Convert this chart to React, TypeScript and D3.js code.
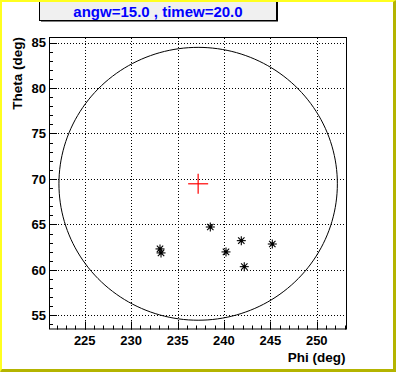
import React from "react";
import * as d3 from "d3";

const W = 396;
const H = 372;

const title = "angw=15.0 , timew=20.0";
const xTitle = "Phi (deg)";
const yTitle = "Theta (deg)";

const xDomain = [221.15, 253.15];
const yDomain = [53.45, 85.5];
const xTicks = [225, 230, 235, 240, 245, 250];
const yTicks = [55, 60, 65, 70, 75, 80, 85];

const centerPhi = 237.22;
const centerTheta = 69.47;
const radius = 15;

const phiValues = [233.11, 233.22, 238.53, 240.22, 241.87, 242.19, 245.21];
const thetaValues = [62.31, 61.87, 64.72, 61.98, 63.22, 60.36, 62.85];

export default function App() {
  const left = 49, right = 346, top = 38, bottom = 329.5;
  const x = d3.scaleLinear().domain(xDomain).range([left, right]);
  const y = d3.scaleLinear().domain(yDomain).range([bottom, top]);

  const xMinor = d3.range(Math.ceil(xDomain[0]), Math.floor(xDomain[1]) + 1);
  const yMinor = d3.range(Math.ceil(yDomain[0]), Math.floor(yDomain[1]) + 1);

  const circlePts: [number, number][] = d3.range(0, 361, 2).map((a) => {
    const r = (a * Math.PI) / 180;
    return [centerPhi + radius * Math.cos(r), centerTheta + radius * Math.sin(r)];
  });
  const circlePath = d3
    .line<[number, number]>()
    .x((d) => x(d[0]))
    .y((d) => y(d[1]))(circlePts) as string;

  const font = "'Liberation Sans', Arial, Helvetica, sans-serif";
  const cx = x(centerPhi);
  const cy = y(centerTheta);

  return (
    <svg
      width={W}
      height={H}
      style={{ position: "absolute", left: 0, top: 0, display: "block" }}
      fontFamily={font}
    >
      <rect x={0} y={0} width={W} height={H} fill="#ffffff" />

      {/* title box */}
      <rect x={41} y={0} width={237} height={21.5} fill="#000000" />
      <rect x={39.5} y={-1.5} width={237} height={22} fill="#f0f0f0" stroke="#000000" strokeWidth={1} />
      <text x={158} y={16.5} textAnchor="middle" fontSize={15} fontWeight="bold" fill="#0000ff">
        {title}
      </text>

      {/* canvas bevel */}
      <polygon points={`0,0 ${W},0 ${W - 2},2 2,2 2,${H - 2} 0,${H}`} fill="#ffff20" />
      <polygon points={`${W},0 ${W},${H} 0,${H} 2,${H - 3} ${W - 3},${H - 3} ${W - 3},2`} fill="#b4b400" />

      {/* grid */}
      <g stroke="#000000" strokeWidth={1} strokeDasharray="1 2">
        {xTicks.map((t) => (
          <line key={"gx" + t} x1={Math.round(x(t)) + 0.5} x2={Math.round(x(t)) + 0.5} y1={top} y2={bottom} />
        ))}
        {yTicks.map((t) => (
          <line key={"gy" + t} x1={left} x2={right} y1={Math.round(y(t)) + 0.5} y2={Math.round(y(t)) + 0.5} />
        ))}
      </g>

      {/* ticks */}
      <g stroke="#000000" strokeWidth={1}>
        {xMinor.map((t) => {
          const major = t % 5 === 0;
          const px = Math.round(x(t)) + 0.5;
          return <line key={"tx" + t} x1={px} x2={px} y1={bottom} y2={bottom - (major ? 8 : 4)} />;
        })}
        {yMinor.map((t) => {
          const major = t % 5 === 0;
          const py = Math.round(y(t)) + 0.5;
          return <line key={"ty" + t} x1={left} x2={left + (major ? 8 : 4)} y1={py} y2={py} />;
        })}
      </g>

      {/* frame */}
      <rect x={left + 0.5} y={top - 0.5} width={right - left} height={bottom - top} fill="none" stroke="#000000" strokeWidth={1} />

      {/* circle */}
      <path d={circlePath} fill="none" stroke="#000000" strokeWidth={1} />

      {/* center cross */}
      <g stroke="#ff0000" strokeWidth={1.2}>
        <line x1={cx - 10} x2={cx + 10} y1={cy} y2={cy} />
        <line x1={cx} x2={cx} y1={cy - 10} y2={cy + 10} />
      </g>

      {/* points */}
      <g stroke="#000000" strokeWidth={1.1}>
        {phiValues.map((p, i) => {
          const px = x(p);
          const py = y(thetaValues[i]);
          return (
            <g key={"p" + i}>
              <line x1={px - 4.5} x2={px + 4.5} y1={py} y2={py} />
              <line x1={px} x2={px} y1={py - 4.5} y2={py + 4.5} />
              <line x1={px - 3.2} x2={px + 3.2} y1={py - 3.2} y2={py + 3.2} />
              <line x1={px - 3.2} x2={px + 3.2} y1={py + 3.2} y2={py - 3.2} />
              <circle cx={px} cy={py} r={1.7} fill="#000000" stroke="none" />
            </g>
          );
        })}
      </g>

      {/* tick labels */}
      <g fontSize={13} fontWeight="bold" fill="#000000">
        {xTicks.map((t) => (
          <text key={"lx" + t} x={x(t)} y={344.5} textAnchor="middle">
            {t}
          </text>
        ))}
        {yTicks.map((t) => (
          <text key={"ly" + t} x={46} y={y(t) + 4.7} textAnchor="end">
            {t}
          </text>
        ))}
      </g>

      {/* axis titles */}
      <text x={345.5} y={362} textAnchor="end" fontSize={13.5} fontWeight="bold" fill="#000000">
        {xTitle}
      </text>
      <text
        transform={`translate(22,37) rotate(-90)`}
        textAnchor="end"
        fontSize={13.5}
        fontWeight="bold"
        fill="#000000"
      >
        {yTitle}
      </text>
    </svg>
  );
}
